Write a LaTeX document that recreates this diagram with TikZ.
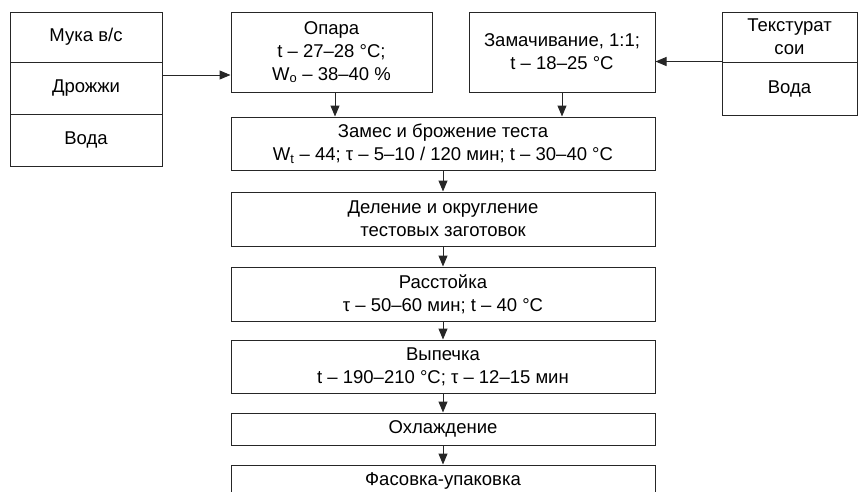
\documentclass[tikz,border=0pt]{standalone}
\usepackage{fontspec}
\setmainfont{Liberation Sans}
\usetikzlibrary{arrows.meta}

\begin{document}
\begin{tikzpicture}[x=1pt, y=-1pt,
  stage/.style={draw=black!85, line width=1pt, align=center, inner sep=0pt,
    font=\fontsize{18.5}{23}\selectfont},
  flow/.style={-{Triangle[length=11pt, width=9pt]}, draw=black!85, line width=1pt}
]
  \useasboundingbox (0,0) rectangle (859,491);

  % raw materials
  \node[stage, minimum width=152pt, minimum height=50pt] (flour) at (86,37) {Мука в/с};
  \node[stage, minimum width=152pt, minimum height=52pt] (yeast) at (86,88) {Дрожжи};
  \node[stage, minimum width=152pt, minimum height=52pt] (water) at (86,140) {Вода};
  \node[stage, minimum width=135pt, minimum height=50pt] (soy) at (789.5,37) {Текстурат\\сои};
  \node[stage, minimum width=135pt, minimum height=53pt] (soywater) at (789.5,88.5) {Вода};

  % preparation
  \node[stage, minimum width=201pt, minimum height=80pt] (sponge) at (331.5,52)
    {Опара\\t – 27–28 °C;\\W\textsubscript{o} – 38–40 \%};
  \node[stage, minimum width=186pt, minimum height=80pt] (soak) at (562,52)
    {Замачивание, 1:1;\\t – 18–25 °C};

  % main line
  \node[stage, minimum width=424pt, minimum height=53pt] (dough) at (443,143.5)
    {Замес и брожение теста\\W\textsubscript{t} – 44; τ – 5–10 / 120 мин; t – 30–40 °C};
  \node[stage, minimum width=424pt, minimum height=54pt] (divide) at (443,219)
    {Деление и округление\\тестовых заготовок};
  \node[stage, minimum width=424pt, minimum height=54pt] (proof) at (443,294)
    {Расстойка\\τ – 50–60 мин; t – 40 °C};
  \node[stage, minimum width=424pt, minimum height=53pt] (bake) at (443,366.5)
    {Выпечка\\t – 190–210 °C; τ – 12–15 мин};
  \node[stage, minimum width=424pt, minimum height=32pt] (cool) at (443,429) {Охлаждение};
  \node[stage, minimum width=424pt, minimum height=32pt] (pack) at (443,481) {Фасовка-упаковка};

  \coordinate (mixout) at (162,75);
  \draw[flow] (mixout) -- (mixout -| sponge.west);
  \draw[flow] (soywater.north west) -- (soywater.north west -| soak.east);
  \draw[flow] ([xshift=3.5pt]sponge.south) -- ([xshift=3.5pt]sponge.south |- dough.north);
  \draw[flow] (soak.south) -- (soak.south |- dough.north);
  \draw[flow] (dough.south) -- (divide.north);
  \draw[flow] (divide.south) -- (proof.north);
  \draw[flow] (proof.south) -- (bake.north);
  \draw[flow] (bake.south) -- (cool.north);
  \draw[flow] (cool.south) -- (pack.north);
\end{tikzpicture}
\end{document}
